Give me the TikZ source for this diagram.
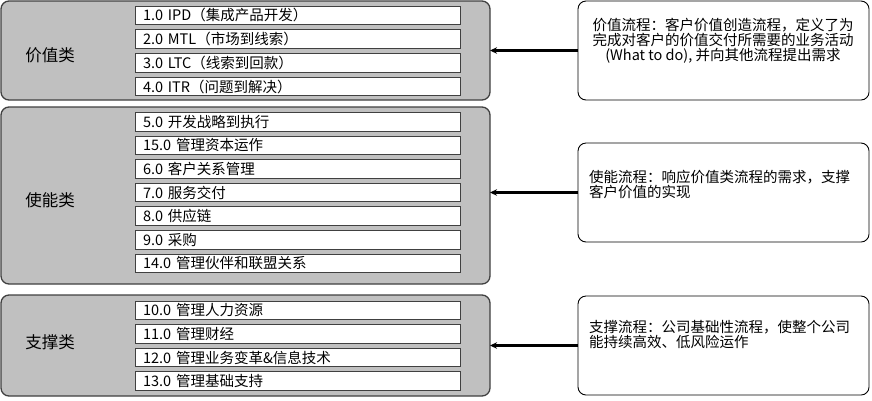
\documentclass[tikz,border=0pt]{standalone}
\usepackage{fontspec}
\setmainfont{Noto Sans CJK SC}
\usetikzlibrary{arrows.meta}
\definecolor{grayfill}{RGB}{192,192,192}
\definecolor{edgegray}{RGB}{64,64,64}
\begin{document}
\begin{tikzpicture}[x=1bp,y=-1bp,
  group/.style={draw=edgegray, fill=grayfill, line width=1.3bp, rounded corners=8bp,
    inner sep=0pt, outer sep=0pt, minimum width=489bp, anchor=north west},
  item/.style={draw=edgegray, fill=white, line width=1bp, inner xsep=8bp, inner ysep=0pt,
    outer sep=0pt, minimum width=325bp, minimum height=18.5bp, text width=309bp, align=left,
    anchor=north west, font=\fontsize{14.5bp}{15bp}\selectfont},
  grouplabel/.style={font=\fontsize{16.5bp}{17bp}\selectfont, inner sep=0pt},
  note/.style={draw=black, fill=white, line width=0.9bp, rounded corners=8bp,
    inner sep=0pt, outer sep=0pt, minimum width=291bp, minimum height=99bp, anchor=north west},
  notetext/.style={font=\fontsize{14.5bp}{15bp}\selectfont, inner sep=0pt},
  arr/.style={line width=2.2bp, draw=black, -{Stealth[length=7bp,width=6.5bp]}}
]
\useasboundingbox (0,0) rectangle (872,400);

% groups
\node[group, minimum height=99bp] (g1) at (1,1) {};
\node[group, minimum height=177bp] (g2) at (1,107) {};
\node[group, minimum height=101bp] (g3) at (1,295) {};

\node[grouplabel] (l1) at (50,55) {价值类};
\node[grouplabel] (l2) at (50,200) {使能类};
\node[grouplabel] (l3) at (50,342) {支撑类};

% items group 1
\node[item] (i1) at (135,6) {1.0 IPD（集成产品开发）};
\node[item] (i2) at (135,29.8) {2.0 MTL（市场到线索）};
\node[item] (i3) at (135,53.6) {3.0 LTC（线索到回款）};
\node[item] (i4) at (135,77.4) {4.0 ITR（问题到解决）};

% items group 2
\node[item] (i5) at (135,112.5) {5.0 开发战略到执行};
\node[item] (i15) at (135,136.1) {15.0 管理资本运作};
\node[item] (i6) at (135,159.7) {6.0 客户关系管理};
\node[item] (i7) at (135,183.3) {7.0 服务交付};
\node[item] (i8) at (135,206.9) {8.0 供应链};
\node[item] (i9) at (135,230.5) {9.0 采购};
\node[item] (i14) at (135,254.1) {14.0 管理伙伴和联盟关系};

% items group 3
\node[item] (i10) at (135,301) {10.0 管理人力资源};
\node[item] (i11) at (135,324.6) {11.0 管理财经};
\node[item] (i12) at (135,348.2) {12.0 管理业务变革\&信息技术};
\node[item] (i13) at (135,371.8) {13.0 管理基础支持};

% notes
\node[note] (r1) at (578,1) {};
\node[note] (r2) at (578,143) {};
\node[note] (r3) at (578,296) {};

\node[notetext, anchor=north, align=center] (t1) at (723,18)
  {价值流程：客户价值创造流程，定义了为\\完成对客户的价值交付所需要的业务活动\\(What to do), 并向其他流程提出需求};
\node[notetext, anchor=north west, align=left] (t2) at (589,170)
  {使能流程：响应价值类流程的需求，支撑\\客户价值的实现};
\node[notetext, anchor=north west, align=left] (t3) at (589,320)
  {支撑流程：公司基础性流程，使整个公司\\能持续高效、低风险运作};

% arrows
\draw[arr] (r1.west) -- (r1.west -| g1.east);
\draw[arr] (r2.west) -- (r2.west -| g2.east);
\draw[arr] (r3.west) -- (r3.west -| g3.east);
\end{tikzpicture}
\end{document}
